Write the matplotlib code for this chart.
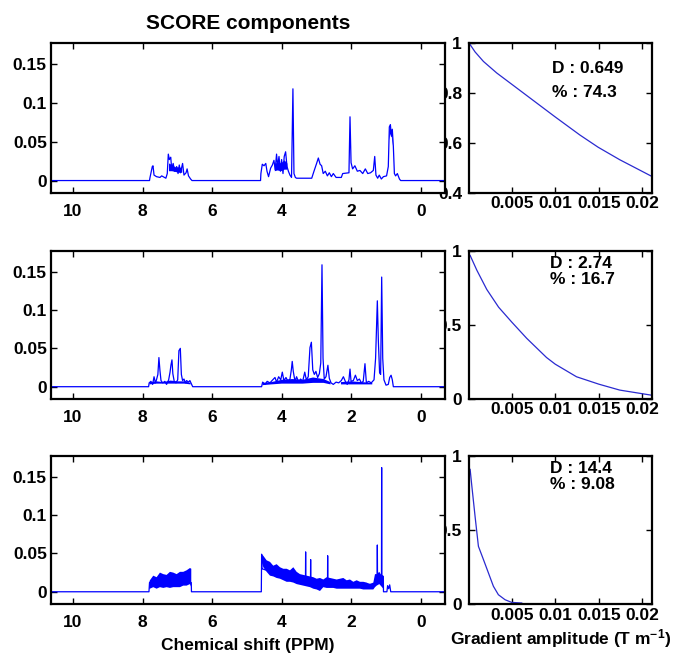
import matplotlib

matplotlib.use("Agg")
import matplotlib.pyplot as plt
import numpy as np

plt.rcParams["font.family"] = ["Liberation Sans", "DejaVu Sans"]
plt.rcParams["font.weight"] = "bold"
plt.rcParams["font.size"] = 12.5
plt.rcParams["mathtext.fontset"] = "custom"
plt.rcParams["mathtext.rm"] = "Liberation Sans"
plt.rcParams["mathtext.bf"] = "Liberation Sans:bold"
plt.rcParams["mathtext.default"] = "bf"

nan = np.nan
BLUE = "#0000ff"

# --- component 1 spectrum (ppm, intensity) ---
s1_ppm = [10.6, 7.80, 7.79, 7.72, 7.70, 7.67, 7.60, 7.50, 7.45, 7.33,
          7.29, 7.26, 7.23, 7.19, 7.165, 7.12, 7.08, 7.02, 6.98, 6.945,
          6.91, 6.85, 6.81, 6.75, 6.72, 6.68, 6.62, 6.58, 4.61, 4.60,
          4.56, 4.51, 4.46, 4.425, 4.38, 4.32, 4.27, 4.225, 4.19, 4.15,
          4.12, 4.08, 4.04, 4.005, 3.965, 3.93, 3.89, 3.85, 3.81, 3.765,
          3.72, 3.68, 3.65, 3.61, 3.575, 3.14, 3.075, 3.0, 2.95, 2.90,
          2.855, 2.81, 2.75, 2.69, 2.635, 2.575, 2.52, 2.44, 2.29, 2.25,
          2.07, 2.04, 2.01, 1.965, 1.90, 1.83, 1.755, 1.675, 1.60, 1.53,
          1.45, 1.37, 1.33, 1.295, 1.245, 1.20, 1.14, 1.08, 0.99, 0.94,
          0.91, 0.88, 0.85, 0.825, 0.795, 0.765, 0.73, 0.68, 0.62, 0.585,
          -0.7]
s1_val = [0, 0, .003, .018, .019, .007, .005, .004, .006, .003,
          .009, .034, .027, .030, .016, .022, .012, .018, .009, .020,
          .010, .022, .007, .010, .015, .006, .002, 0, 0, .009,
          .021, .019, .022, .012, .005, .016, .020, .026, .014, .034,
          .018, .031, .012, .027, .009, .031, .037, .018, .012, .007,
          .004, .118, .009, .004, .003, .003, .012, .022, .029, .021,
          .019, .009, .012, .006, .010, .005, .009, .004, .004, .009,
          .010, .082, .023, .015, .019, .012, .013, .009, .015, .009,
          .010, .013, .031, .007, .003, .007, .002, .005, .006, .018,
          .069, .072, .057, .066, .044, .009, .006, .009, .002, 0,
          0]
s1_band_ppm = [7.24, 7.15, 7.05, 6.95, 6.86, nan,
               4.20, 4.12, 4.02, 3.92, 3.84, nan,
               0.91, 0.88, 0.84, 0.81]
s1_band_lo = [.012, .012, .011, .010, .010, nan,
              .012, .013, .012, .014, .014, nan,
              .052, .060, .056, .045]
s1_band_hi = [.022, .020, .017, .017, .016, nan,
              .020, .024, .022, .026, .022, nan,
              .064, .068, .064, .052]

# --- component 2 spectrum ---
s2_ppm = [10.6, 7.826, 7.81, 7.76, 7.71, 7.67, 7.63, 7.60, 7.56, 7.53,
          7.50, 7.47, 7.42, 7.36, 7.31, 7.25, 7.21, 7.185, 7.155, 7.13,
          7.09, 7.04, 6.99, 6.955, 6.915, 6.885, 6.85, 6.81, 6.77, 6.735,
          6.68, 6.64, 6.59, 6.56, 4.58, 4.55, 4.48, 4.42, 4.34, 4.26,
          4.195, 4.15, 4.09, 4.03, 3.985, 3.94, 3.88, 3.82, 3.765, 3.725,
          3.70, 3.67, 3.62, 3.575, 3.515, 3.46, 3.40, 3.34, 3.295, 3.24,
          3.19, 3.15, 3.11, 3.065, 3.02, 2.97, 2.92, 2.88, 2.845, 2.815,
          2.78, 2.73, 2.675, 2.635, 2.585, 2.52, 2.44, 2.365, 2.29, 2.23,
          2.175, 2.12, 2.07, 2.04, 2.01, 1.945, 1.885, 1.83, 1.77, 1.715,
          1.66, 1.61, 1.57, 1.505, 1.43, 1.35, 1.305, 1.255, 1.225, 1.19,
          1.16, 1.13, 1.10, 1.065, 1.005, 0.94, 0.90, 0.86, 0.825, 0.795,
          -0.7]
s2_val = [0, 0, .005, .007, .003, .013, .005, .009, .016, .038,
          .021, .008, .005, .007, .003, .009, .019, .028, .035, .017,
          .007, .005, .009, .047, .050, .016, .008, .010, .005, .008,
          .006, .008, .003, 0, 0, .006, .003, .007, .005, .009,
          .012, .006, .013, .009, .019, .008, .012, .007, .010, .022,
          .033, .020, .007, .013, .006, .010, .007, .019, .009, .013,
          .051, .058, .022, .016, .020, .012, .017, .031, .159, .037,
          .010, .013, .028, .011, .005, .003, .006, .005, .008, .013,
          .007, .003, .009, .023, .007, .008, .015, .008, .010, .005,
          .007, .030, .005, .007, .005, .009, .037, .112, .059, .018,
          .016, .143, .037, .009, .002, .003, .012, .015, .009, 0,
          0]
s2_band_ppm = [7.80, 7.6, 7.4, 7.2, 7.0, 6.8, 6.62, nan,
               4.55, 4.3, 4.0, 3.7, 3.4, 3.1, 2.8, 2.6, nan,
               2.3, 2.0, 1.7, 1.4]
s2_band_lo = [.003, .004, .004, .004, .004, .004, .003, nan,
              .002, .003, .004, .004, .004, .005, .005, .003, nan,
              .003, .003, .003, .003]
s2_band_hi = [.006, .007, .006, .008, .007, .007, .005, nan,
              .005, .006, .009, .010, .009, .012, .010, .006, nan,
              .006, .007, .006, .005]

# --- component 3 spectrum ---
s3_ppm = [10.6, 7.816, 7.80, 6.60, 6.595, 4.588, 4.579, 4.57, 3.32, 3.315,
          3.31, 3.176, 3.171, 3.166, 2.687, 2.682, 2.677, 1.26, 1.255, 1.25,
          1.136, 1.131, 1.126, 1.083, 1.078, 0.98, 0.96, 0.93, 0.90, 0.87,
          -0.7]
s3_val = [0, 0, .012, .012, 0, 0, .049, .030, .012, .052,
          .012, .010, .042, .010, .008, .047, .008, .010, .061, .020,
          .020, .162, .020, .020, 0, 0, .008, .004, .009, 0,
          0]
s3_band_ppm = [7.81, 7.788, 7.692, 7.596, 7.50, 7.404, 7.309, 7.213, 7.117, 7.021,
               6.925, 6.830, 6.734, 6.638, 6.60, nan,
               4.579, 4.531, 4.435, 4.339, 4.244, 4.148, 4.052, 3.956, 3.860, 3.765,
               3.669, 3.573, 3.477, 3.381, 3.286, 3.190, 3.094, 2.998, 2.903, 2.807,
               2.711, 2.615, 2.519, 2.424, 2.328, 2.232, 2.136, 2.041, 1.945, 1.849,
               1.753, 1.657, 1.562, 1.466, 1.370, 1.322, 1.274, 1.198, 1.159, 1.083]
s3_band_lo = [.004, .004, .006, .004, .006, .005, .006, .005, .006, .006,
              .006, .008, .008, .010, .006, nan,
              .039, .032, .026, .021, .020, .018, .017, .015, .013, .013,
              .012, .010, .009, .008, .007, .006, .004, .003, .001, .006,
              .005, .005, .005, .004, .004, .004, .004, .004, .004, .004,
              .004, .003, .003, .003, .003, .006, .008, .010, .008, .004]
s3_band_hi = [.012, .015, .021, .019, .025, .023, .022, .026, .025, .023,
              .026, .026, .028, .031, .030, nan,
              .049, .047, .041, .039, .034, .036, .032, .030, .030, .028,
              .032, .026, .023, .022, .021, .020, .019, .017, .018, .016,
              .019, .018, .017, .016, .017, .018, .015, .016, .013, .015,
              .013, .013, .012, .010, .012, .023, .023, .026, .023, .021]

# --- attenuation vs gradient amplitude (T/m) ---
g1 = [0.0001, 0.0008, 0.00176, 0.00328, 0.005, 0.00748, 0.00996, 0.01282, 0.01492, 0.0174, 0.0211]
d1 = [1.0, 0.964, 0.926, 0.880, 0.835, 0.770, 0.705, 0.632, 0.583, 0.533, 0.466]
g2 = [0.00023, 0.001, 0.00214, 0.0035, 0.005, 0.00672, 0.0090, 0.0100, 0.01244, 0.0150, 0.0174, 0.0211]
d2 = [0.97, 0.87, 0.74, 0.62, 0.52, 0.41, 0.28, 0.235, 0.15, 0.10, 0.06, 0.025]
g3 = [0.00023, 0.00042, 0.0008, 0.00118, 0.00176, 0.00233, 0.0029, 0.00347, 0.00424, 0.005, 0.00615]
d3 = [0.91, 0.80, 0.59, 0.39, 0.30, 0.21, 0.12, 0.063, 0.029, 0.011, 0.007]

diff_coef = ["0.649", "2.74", "14.4"]
percent = ["74.3", "16.7", "9.08"]

spectra = [
    (s1_ppm, s1_val, s1_band_ppm, s1_band_lo, s1_band_hi),
    (s2_ppm, s2_val, s2_band_ppm, s2_band_lo, s2_band_hi),
    (s3_ppm, s3_val, s3_band_ppm, s3_band_lo, s3_band_hi),
]
decays = [(g1, d1), (g2, d2), (g3, d3)]

# axes rectangles (figure fractions)
row_boxes = [(0.7076, 0.2273), (0.3955, 0.2242), (0.0848, 0.2242)]
left_x, left_w = 0.0749, 0.5786
right_x, right_w = 0.6887, 0.2687


def _frame(ax):
    ax.tick_params(direction="in", top=True, right=True, length=4, width=1)
    for sp in ax.spines.values():
        sp.set_linewidth(1.6)


fig = plt.figure(figsize=(6.81, 6.60), dpi=100)

for i, (bottom, height) in enumerate(row_boxes):
    ppm, val, bppm, blo, bhi = spectra[i]
    g, d = decays[i]

    # decay panel first so the spectrum panel sits on top of its tick labels
    axr = fig.add_axes([right_x, bottom, right_w, height], zorder=1)
    axr.plot(g, d, color="#2a2ad0", lw=0.9)
    axr.set_xlim(0.0001, 0.0211)
    axr.set_xticks([0.005, 0.01, 0.015, 0.02])
    axr.set_xticklabels(["0.005", "0.01", "0.015", "0.02"])
    if i == 0:
        axr.set_ylim(0.4, 1.0)
        axr.set_yticks([0.4, 0.6, 0.8, 1.0])
        axr.set_yticklabels(["0.4", "0.6", "0.8", "1"])
        axr.text(0.454, 0.827, f"D : {diff_coef[i]}", transform=axr.transAxes, va="center")
        axr.text(0.454, 0.673, f"% : {percent[i]}", transform=axr.transAxes, va="center")
    else:
        axr.set_ylim(0.0, 1.0)
        axr.set_yticks([0, 0.5, 1.0])
        axr.set_yticklabels(["0", "0.5", "1"])
        axr.text(0.443, 0.915, f"D : {diff_coef[i]}", transform=axr.transAxes, va="center")
        axr.text(0.443, 0.81, f"% : {percent[i]}", transform=axr.transAxes, va="center")
    _frame(axr)
    axr.tick_params(axis="x", pad=2.5)
    axr.tick_params(axis="y", pad=5)

    axl = fig.add_axes([left_x, bottom, left_w, height], zorder=2)
    axl.patch.set_facecolor("white")
    axl.fill_between(bppm, blo, bhi, color=BLUE, lw=0)
    axl.plot(ppm, val, color=BLUE, lw=0.9)
    axl.set_xlim(10.63, -0.69)
    axl.set_ylim(-0.016, 0.177)
    axl.set_xticks([10, 8, 6, 4, 2, 0])
    axl.set_yticks([0, 0.05, 0.1, 0.15])
    axl.set_yticklabels(["0", "0.05", "0.1", "0.15"])
    _frame(axl)
    axl.tick_params(axis="x", pad=8)
    axl.tick_params(axis="y", pad=3)

    if i == 0:
        axl.set_title("SCORE components", fontweight="bold", pad=10)
    if i == 2:
        axl.set_xlabel("Chemical shift (PPM)", fontweight="bold", labelpad=6)
        axr.set_xlabel("Gradient amplitude (T m$^{-1}$)", fontweight="bold", labelpad=3)

fig.savefig("out.png", dpi=100)
